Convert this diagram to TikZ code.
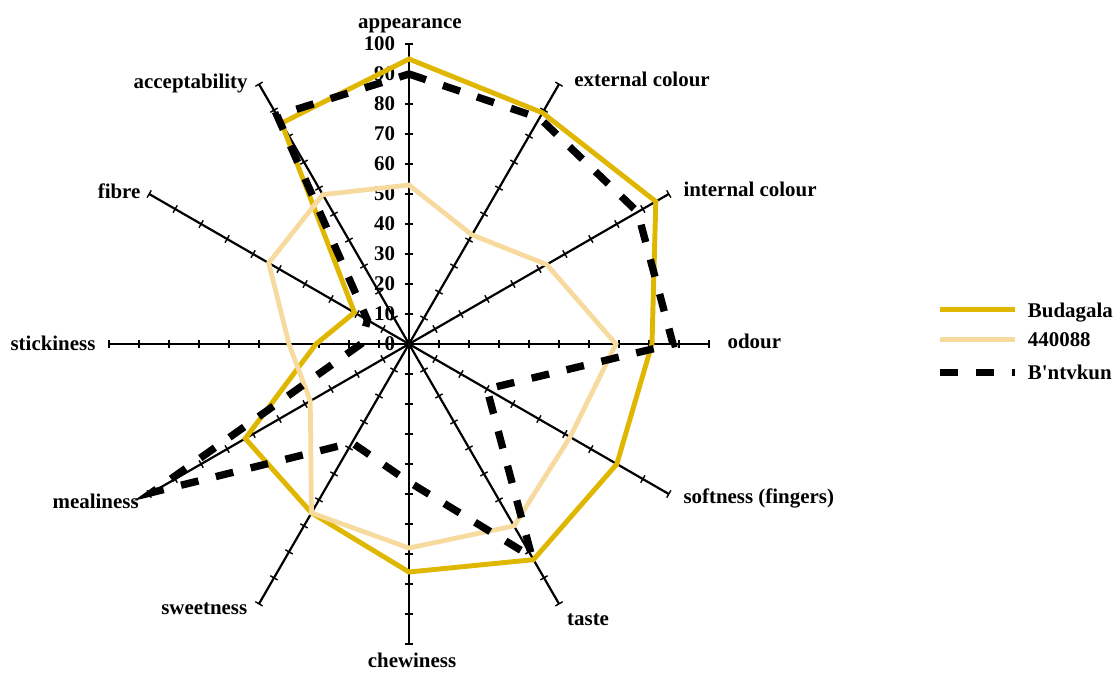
\documentclass[tikz,border=0pt]{standalone}
\usepackage{fontspec}
\setmainfont{Liberation Serif}
\usepackage{tikz}
\usetikzlibrary{positioning}
\definecolor{budagalagold}{RGB}{224,183,0}
\definecolor{paletan}{RGB}{246,218,158}
\tikzstyle{axis} = [line width=1.25pt, black]
\tikzstyle{tick} = [line width=0.8pt, black]
\tikzstyle{axislabel} = [inner sep=0pt, font=\fontsize{11.9}{14}\selectfont\bfseries]
\tikzstyle{value} = [inner sep=0pt, anchor=east, font=\fontsize{11.9}{14}\selectfont\bfseries]
\tikzstyle{budagala} = [line width=2.8pt, budagalagold]
\tikzstyle{clone} = [line width=2.7pt, paletan]
\tikzstyle{bntvkun} = [line width=4.2pt, black, dash pattern=on 10.2pt off 10.2pt]

\begin{document}
\begin{tikzpicture}[x=0.06cm, y=0.06cm]
\useasboundingbox (-136.33,-109.33) rectangle (235.33,114.67);

% Axes and ticks
\foreach \a in {90,60,...,-240} {
  \draw [axis, rotate=\a] (0,0) -- (100,0);
  \foreach \k in {10,20,...,100}
    \draw [tick, rotate=\a] (\k,-1.4) -- (\k,1.4);
}

% Values
\foreach \v in {0,10,...,100}
  \node (val\v) [value] at (-4.5,\v) {\v};

% Axis labels
\node (appearance) [axislabel, anchor=base] at (0.3,105.2) {appearance};
\node (extcolour) [axislabel, anchor=base west] at (55,85.8) {external colour};
\node (intcolour) [axislabel, anchor=base west] at (91.4,49.1) {internal colour};
\node (odour) [axislabel, anchor=base west] at (106.1,-1.4) {odour};
\node (softness) [axislabel, anchor=base west] at (91.4,-53.3) {softness (fingers)};
\node (taste) [axislabel, anchor=base] at (59.7,-93.9) {taste};
\node (chewiness) [axislabel, anchor=base] at (1,-107.9) {chewiness};
\node (sweetness) [axislabel, anchor=base east] at (-53.8,-90.1) {sweetness};
\node (mealiness) [axislabel, anchor=base east] at (-90,-54.7) {mealiness};
\node (stickiness) [axislabel, anchor=base east] at (-104.4,-2) {stickiness};
\node (fibre) [axislabel, anchor=base east] at (-89.4,48.6) {fibre};
\node (acceptability) [axislabel, anchor=base east] at (-53.7,85.3) {acceptability};

% Series
\draw [budagala] (90:95) -- (60:89) -- (30:95) -- (0:81) -- (-30:80) -- (-60:83)
  -- (-90:76) -- (-120:65) -- (-150:63) -- (180:31) -- (150:21) -- (120:85) -- cycle;
\draw [clone] (90:53) -- (60:42) -- (30:53) -- (0:69) -- (-30:62) -- (-60:70)
  -- (-90:68) -- (-120:65) -- (-150:38) -- (180:40) -- (150:54) -- (120:57.5) -- cycle;
\draw [bntvkun] (90:90) -- (60:87) -- (30:88) -- (0:88) -- (-30:30) -- (-60:82)
  -- (-90:46) -- (-120:38) -- (-150:99) -- (180:16) -- (150:16) -- (120:88) -- cycle;

% Legend
\draw [budagala] (177,11.6) -- (202,11.6);
\draw [clone] (177,1.6) -- (202,1.6);
\draw [bntvkun] (177,-9.4) -- (202,-9.4);
\node (legbudagala) [axislabel, anchor=base west] at (206.2,8.8) {Budagala};
\node (legclone) [axislabel, anchor=base west] at (206.2,-0.9) {440088};
\node (legbntvkun) [axislabel, anchor=base west] at (206.2,-11.7) {B\textquotesingle ntvkun};

\end{tikzpicture}
\end{document}
